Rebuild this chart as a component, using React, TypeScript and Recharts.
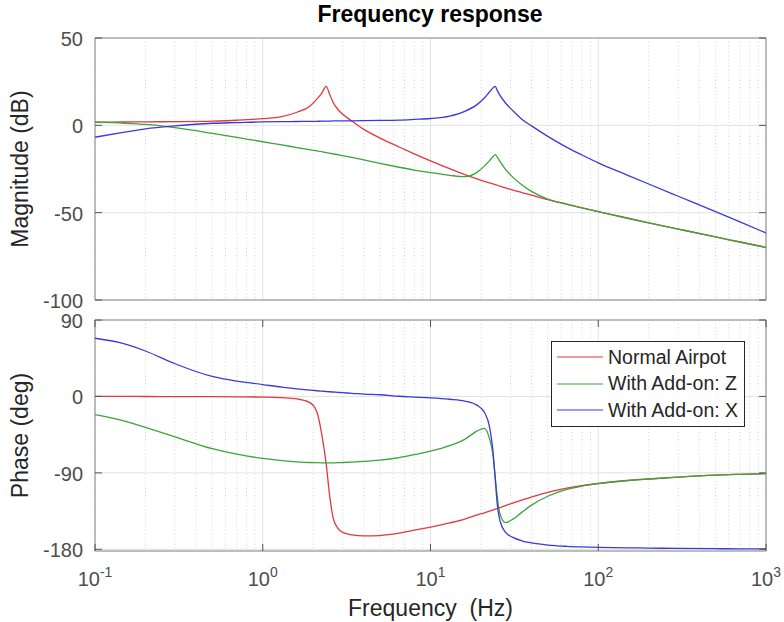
import React from "react";
import {
  CartesianGrid,
  Legend,
  Line,
  LineChart,
  ReferenceArea,
  XAxis,
  YAxis,
} from "recharts";

// frequency grid (Hz), denser around the two resonances
const FREQ = [
  0.1, 0.15, 0.2, 0.3, 0.5, 0.7, 1, 1.3, 1.6, 1.9, 2.1, 2.25, 2.39, 2.5, 2.62,
  2.8, 3, 3.4, 4, 5, 6.5, 8, 10, 13, 16, 19, 21, 22.5, 23.5, 24.3, 25, 26, 28,
  31, 35, 40, 50, 65, 80, 100, 150, 200, 300, 500, 700, 1000,
];

// magnitude (dB)
const NORMAL_MAG = [
  1.8, 1.9, 2.0, 2.1, 2.4, 2.9, 3.8, 5.0, 7.5, 10.8, 15.0, 18.5, 22.3, 18.0,
  13.4, 9.2, 6.3, 2.4, -2.3, -7.3, -12.4, -16.3, -20.3, -24.8, -28.2, -30.7,
  -32.1, -33.0, -33.5, -33.9, -34.3, -34.8, -35.8, -37.1, -38.5, -40.0, -42.5,
  -45.2, -47.3, -49.4, -53.2, -55.8, -59.4, -63.9, -66.8, -69.9,
];
const ADDON_Z_MAG = [
  1.8, 1.2, 0.5, -1.3, -4.6, -6.9, -9.4, -11.2, -12.7, -13.9, -14.6, -15.1,
  -15.6, -15.9, -16.3, -16.8, -17.4, -18.4, -19.8, -21.8, -24.0, -25.6, -27.1,
  -28.6, -29.4, -26.8, -23.2, -20.2, -18.0, -16.8, -18.2, -20.8, -25.2, -29.8,
  -34.0, -37.8, -42.2, -45.1, -47.3, -49.4, -53.2, -55.8, -59.4, -63.9, -66.8,
  -69.9,
];
const ADDON_X_MAG = [
  -6.8, -3.9, -2.0, -0.3, 1.2, 1.6, 2.0, 2.1, 2.2, 2.3, 2.3, 2.4, 2.4, 2.4,
  2.5, 2.5, 2.5, 2.6, 2.7, 2.8, 3.0, 3.4, 3.9, 5.3, 8.0, 12.0, 15.8, 19.2, 21.3,
  22.3, 20.0, 17.0, 12.8, 8.3, 3.5, -0.3, -6.3, -12.6, -17.0, -21.5, -28.6,
  -33.6, -40.6, -49.4, -55.3, -61.6,
];

// phase (deg)
const NORMAL_PHASE = [
  0, 0, -0.1, -0.2, -0.3, -0.5, -0.8, -1.5, -3, -7, -18, -45, -80, -115, -142,
  -155, -160, -163, -164.3, -163.8, -161, -157.5, -154, -149, -144.5, -139.5,
  -137, -135, -133.8, -132.8, -132, -130.8, -128.5, -125.5, -122, -118.5, -113,
  -108, -105, -102.5, -99, -97.2, -95, -92.7, -91.7, -90.8,
];
const ADDON_Z_PHASE = [
  -21.5, -29, -36.5, -47.5, -61.5, -68, -73, -75.5, -77, -77.8, -78, -78.2,
  -78.3, -78.3, -78.2, -78, -77.8, -77.3, -76.5, -75, -72, -68.5, -64.5, -58,
  -50.5, -40.5, -37.5, -50, -67, -95, -118, -139, -148.5, -144.5, -136.5, -128,
  -117.5, -109.5, -105.5, -102.6, -99, -97.2, -95, -92.7, -91.7, -90.8,
];
const ADDON_X_PHASE = [
  68.5, 62, 53.5, 38.5, 23.5, 18, 14, 11, 9, 7.5, 6.7, 6.2, 5.8, 5.5, 5.2, 4.8,
  4.4, 3.7, 2.7, 2.0, 0.2, -0.7, -1.6, -3.3, -5.5, -10.5, -19, -36, -62, -96,
  -127, -147, -160, -166, -170, -172.5, -175, -176.5, -177.2, -177.7, -178.3,
  -178.6, -179, -179.3, -179.4, -179.5,
];

const SERIES_NAMES = ["Normal Airpot", "With Add-on: Z", "With Add-on: X"];

const X_MAJOR = [0.1, 1, 10, 100, 1000];
const X_MINOR = [
  0.2, 0.3, 0.4, 0.5, 0.6, 0.7, 0.8, 0.9, 2, 3, 4, 5, 6, 7, 8, 9, 20, 30, 40,
  50, 60, 70, 80, 90, 200, 300, 400, 500, 600, 700, 800, 900,
];
const MAG_TICKS = [-100, -50, 0, 50];
const PHASE_TICKS = [-180, -90, 0, 90];

const magRows = FREQ.map((f, i) => ({
  f,
  normal: NORMAL_MAG[i],
  z: ADDON_Z_MAG[i],
  x: ADDON_X_MAG[i],
}));
const phaseRows = FREQ.map((f, i) => ({
  f,
  normal: NORMAL_PHASE[i],
  z: ADDON_Z_PHASE[i],
  x: ADDON_X_PHASE[i],
}));

const RED = "#e0393e";
const GREEN = "#3ba43b";
const BLUE = "#3a3ad8";
const FONT = "'Liberation Sans', Arial, Helvetica, sans-serif";
const BORDER = "#8a8a8a";
const TICK = "#555555";
const TICK_TEXT = "#4d4d4d";
const DARK = "#262626";

const PLOT_W = 671;
const TOP_H = 262;
const BOT_H = 231;

function MajorXTick(props: any) {
  const { x, y, payload, plotH, showLabel } = props;
  const exp = Math.round(Math.log10(payload.value));
  return (
    <g>
      <line x1={x} x2={x} y1={y} y2={y - 7} stroke={TICK} />
      <line x1={x} x2={x} y1={y - plotH} y2={y - plotH + 7} stroke={TICK} />
      {showLabel && (
        <text
          x={x}
          y={y + 35}
          textAnchor="middle"
          fill={TICK_TEXT}
          fontSize={20}
          fontFamily={FONT}
        >
          10
          <tspan dy={-9} fontSize={14}>
            {exp}
          </tspan>
        </text>
      )}
    </g>
  );
}

function MinorXTick(props: any) {
  const { x, y, plotH } = props;
  return (
    <g>
      <line x1={x} x2={x} y1={y} y2={y + 4} stroke={TICK} />
      <line x1={x} x2={x} y1={y + plotH} y2={y + plotH - 4} stroke={TICK} />
    </g>
  );
}

function YTick(props: any) {
  const { x, y, payload } = props;
  return (
    <g>
      <line x1={x} x2={x + 7} y1={y} y2={y} stroke={TICK} />
      <line x1={x + PLOT_W - 7} x2={x + PLOT_W} y1={y} y2={y} stroke={TICK} />
      <text
        x={x - 12}
        y={y}
        dy={1}
        textAnchor="end"
        dominantBaseline="central"
        fill={TICK_TEXT}
        fontSize={20}
        fontFamily={FONT}
      >
        {payload.value}
      </text>
    </g>
  );
}

const yLabel = (text: string) => (props: any) => {
  const vb = props.viewBox;
  const cy = vb.y + vb.height / 2;
  return (
    <text
      x={28}
      y={cy}
      transform={`rotate(-90 28 ${cy})`}
      textAnchor="middle"
      fill={DARK}
      fontSize={23}
      fontFamily={FONT}
    >
      {text}
    </text>
  );
};

// x label sits in the bottom axis band, below the tick labels
const xLabel = (props: any) => {
  const vb = props.viewBox;
  return (
    <text
      x={vb.x + vb.width / 2}
      y={vb.y + 65}
      textAnchor="middle"
      fill={DARK}
      fontSize={23}
      fontFamily={FONT}
      style={{ whiteSpace: "pre" }}
    >
      {"Frequency  (Hz)"}
    </text>
  );
};

function LegendBox(props: any) {
  const items = [...(props.payload || [])].sort(
    (a: any, b: any) =>
      SERIES_NAMES.indexOf(a.value) - SERIES_NAMES.indexOf(b.value)
  );
  return (
    <div
      style={{
        border: "1px solid #262626",
        background: "#fff",
        padding: "2px 0",
        width: 194,
        boxSizing: "border-box",
        fontFamily: FONT,
      }}
    >
      {items.map((p: any) => (
        <div
          key={p.value}
          style={{ display: "flex", alignItems: "center", height: 26.5 }}
        >
          <svg width={56} height={10} style={{ flex: "none" }}>
            <line x1={5} x2={51} y1={5} y2={5} stroke={p.color} strokeWidth={1.2} />
          </svg>
          <span style={{ fontSize: 19.5, color: DARK, whiteSpace: "nowrap" }}>
            {p.value}
          </span>
        </div>
      ))}
    </div>
  );
}

function renderLines() {
  return [
    <Line
      key="normal"
      xAxisId="major"
      type="monotone"
      dataKey="normal"
      name={SERIES_NAMES[0]}
      stroke={RED}
      strokeWidth={1.3}
      dot={false}
      isAnimationActive={false}
    />,
    <Line
      key="z"
      xAxisId="major"
      type="monotone"
      dataKey="z"
      name={SERIES_NAMES[1]}
      stroke={GREEN}
      strokeWidth={1.3}
      dot={false}
      isAnimationActive={false}
    />,
    <Line
      key="x"
      xAxisId="major"
      type="monotone"
      dataKey="x"
      name={SERIES_NAMES[2]}
      stroke={BLUE}
      strokeWidth={1.3}
      dot={false}
      isAnimationActive={false}
    />,
  ];
}

export default function App() {
  return (
    <div
      style={{
        position: "absolute",
        left: 0,
        top: 0,
        width: 784,
        height: 622,
        background: "#fff",
        fontFamily: FONT,
      }}
    >
      <div
        style={{
          position: "absolute",
          left: 230,
          top: 3,
          width: 400,
          textAlign: "center",
          fontSize: 23,
          lineHeight: "23px",
          fontWeight: "bold",
          color: "#000",
        }}
      >
        Frequency response
      </div>
      <div style={{ position: "absolute", left: 0, top: 0 }}>
        <LineChart
          width={784}
          height={322}
          data={magRows}
          margin={{ top: 38, right: 18, bottom: 22, left: 0 }}
        >
          <CartesianGrid xAxisId="minor" horizontal={false} stroke="#d4d4d4" strokeDasharray="1 2.5" />
          <CartesianGrid xAxisId="major" stroke="#e2e2e2" />
          <XAxis
            xAxisId="minor"
            orientation="top"
            dataKey="f"
            type="number"
            scale="log"
            domain={[0.1, 1000]}
            allowDataOverflow
            ticks={X_MINOR}
            interval={0}
            height={0}
            axisLine={false}
            tickLine={false}
            tickSize={0}
            tickMargin={0}
            tick={<MinorXTick plotH={TOP_H} />}
          />
          <XAxis
            xAxisId="major"
            dataKey="f"
            type="number"
            scale="log"
            domain={[0.1, 1000]}
            allowDataOverflow
            ticks={X_MAJOR}
            interval={0}
            height={0}
            axisLine={false}
            tickLine={false}
            tickSize={0}
            tickMargin={0}
            tick={<MajorXTick plotH={TOP_H} showLabel={false} />}
          />
          <YAxis
            type="number"
            domain={[-100, 50]}
            allowDataOverflow
            ticks={MAG_TICKS}
            interval={0}
            width={95}
            axisLine={false}
            tickLine={false}
            tickSize={0}
            tickMargin={0}
            tick={<YTick />}
            label={yLabel("Magnitude (dB)")}
          />
          <ReferenceArea
            xAxisId="major"
            x1={0.1}
            x2={1000}
            y1={-100}
            y2={50}
            fill="none"
            stroke={BORDER}
            ifOverflow="visible"
          />
          {renderLines()}
        </LineChart>
      </div>
      <div style={{ position: "absolute", left: 0, top: 310 }}>
        <LineChart
          width={784}
          height={312}
          data={phaseRows}
          margin={{ top: 10, right: 18, bottom: 0, left: 0 }}
        >
          <CartesianGrid xAxisId="minor" horizontal={false} stroke="#d4d4d4" strokeDasharray="1 2.5" />
          <CartesianGrid xAxisId="major" stroke="#e2e2e2" />
          <XAxis
            xAxisId="minor"
            orientation="top"
            dataKey="f"
            type="number"
            scale="log"
            domain={[0.1, 1000]}
            allowDataOverflow
            ticks={X_MINOR}
            interval={0}
            height={0}
            axisLine={false}
            tickLine={false}
            tickSize={0}
            tickMargin={0}
            tick={<MinorXTick plotH={BOT_H} />}
          />
          <XAxis
            xAxisId="major"
            dataKey="f"
            type="number"
            scale="log"
            domain={[0.1, 1000]}
            allowDataOverflow
            ticks={X_MAJOR}
            interval={0}
            height={71}
            axisLine={false}
            tickLine={false}
            tickSize={0}
            tickMargin={0}
            tick={<MajorXTick plotH={BOT_H} showLabel />}
            label={xLabel}
          />
          <YAxis
            type="number"
            domain={[-182, 90]}
            allowDataOverflow
            ticks={PHASE_TICKS}
            interval={0}
            width={95}
            axisLine={false}
            tickLine={false}
            tickSize={0}
            tickMargin={0}
            tick={<YTick />}
            label={yLabel("Phase (deg)")}
          />
          <ReferenceArea
            xAxisId="major"
            x1={0.1}
            x2={1000}
            y1={-182}
            y2={90}
            fill="none"
            stroke={BORDER}
            ifOverflow="visible"
          />
          {renderLines()}
          <Legend
            layout="vertical"
            align="center"
            verticalAlign="middle"
            wrapperStyle={{ left: 551, top: 31, width: 194 }}
            content={<LegendBox />}
          />
        </LineChart>
      </div>
    </div>
  );
}
